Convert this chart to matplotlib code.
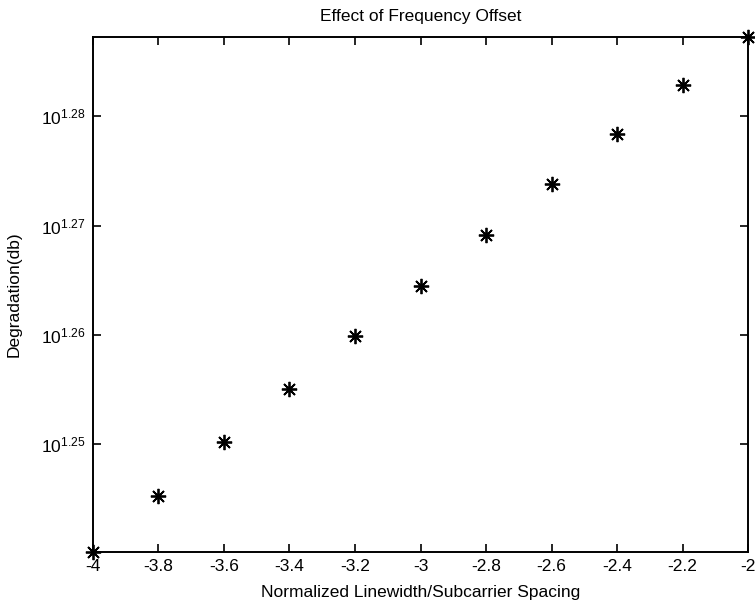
import matplotlib
matplotlib.use("Agg")
import matplotlib.pyplot as plt
import matplotlib.ticker as mticker
import numpy as np

plt.rcParams['font.family'] = ['Liberation Sans', 'DejaVu Sans']
plt.rcParams['mathtext.fontset'] = 'custom'
plt.rcParams['mathtext.rm'] = 'Liberation Sans'
plt.rcParams['mathtext.it'] = 'Liberation Sans'

# data
linewidth = [-4.0, -3.8, -3.6, -3.4, -3.2, -3.0, -2.8, -2.6, -2.4, -2.2, -2.0]
degradation = [17.384, 17.589, 17.789, 17.989, 18.192, 18.386,
               18.584, 18.786, 18.983, 19.180, 19.378]

xticks = [-4, -3.8, -3.6, -3.4, -3.2, -3, -2.8, -2.6, -2.4, -2.2, -2]
xlabels = ['-4', '-3.8', '-3.6', '-3.4', '-3.2', '-3', '-2.8', '-2.6', '-2.4', '-2.2', '-2']
yexp = [1.25, 1.26, 1.27, 1.28]

fig = plt.figure(figsize=(7.55, 6.09), dpi=100)
ax = fig.add_axes([0.123, 0.094, 0.868, 0.846])

ax.semilogy(linewidth, degradation, linestyle='none', marker=(8, 2, 0),
            markersize=11, markeredgewidth=1.3, color='black', clip_on=False)

ax.set_xlim(min(linewidth), max(linewidth))
ax.set_ylim(min(degradation), max(degradation))

ax.set_xticks(xticks)
ax.set_xticklabels(xlabels)
ax.yaxis.set_major_locator(mticker.FixedLocator([10 ** e for e in yexp]))
ax.yaxis.set_major_formatter(mticker.FixedFormatter(['$10^{%.2f}$' % e for e in yexp]))
ax.yaxis.set_minor_locator(mticker.NullLocator())

ax.tick_params(direction='in', top=True, right=True, length=6, width=1.2,
               labelsize=12.5, pad=5)
for s in ax.spines.values():
    s.set_linewidth(1.4)

ax.set_xlabel('Normalized Linewidth/Subcarrier Spacing', fontsize=12.5, labelpad=8)
ax.set_ylabel('Degradation(db)', fontsize=12.5, labelpad=14)
ax.set_title('Effect of Frequency Offset', fontsize=12.5, pad=11)

fig.savefig('out.png', dpi=100)
